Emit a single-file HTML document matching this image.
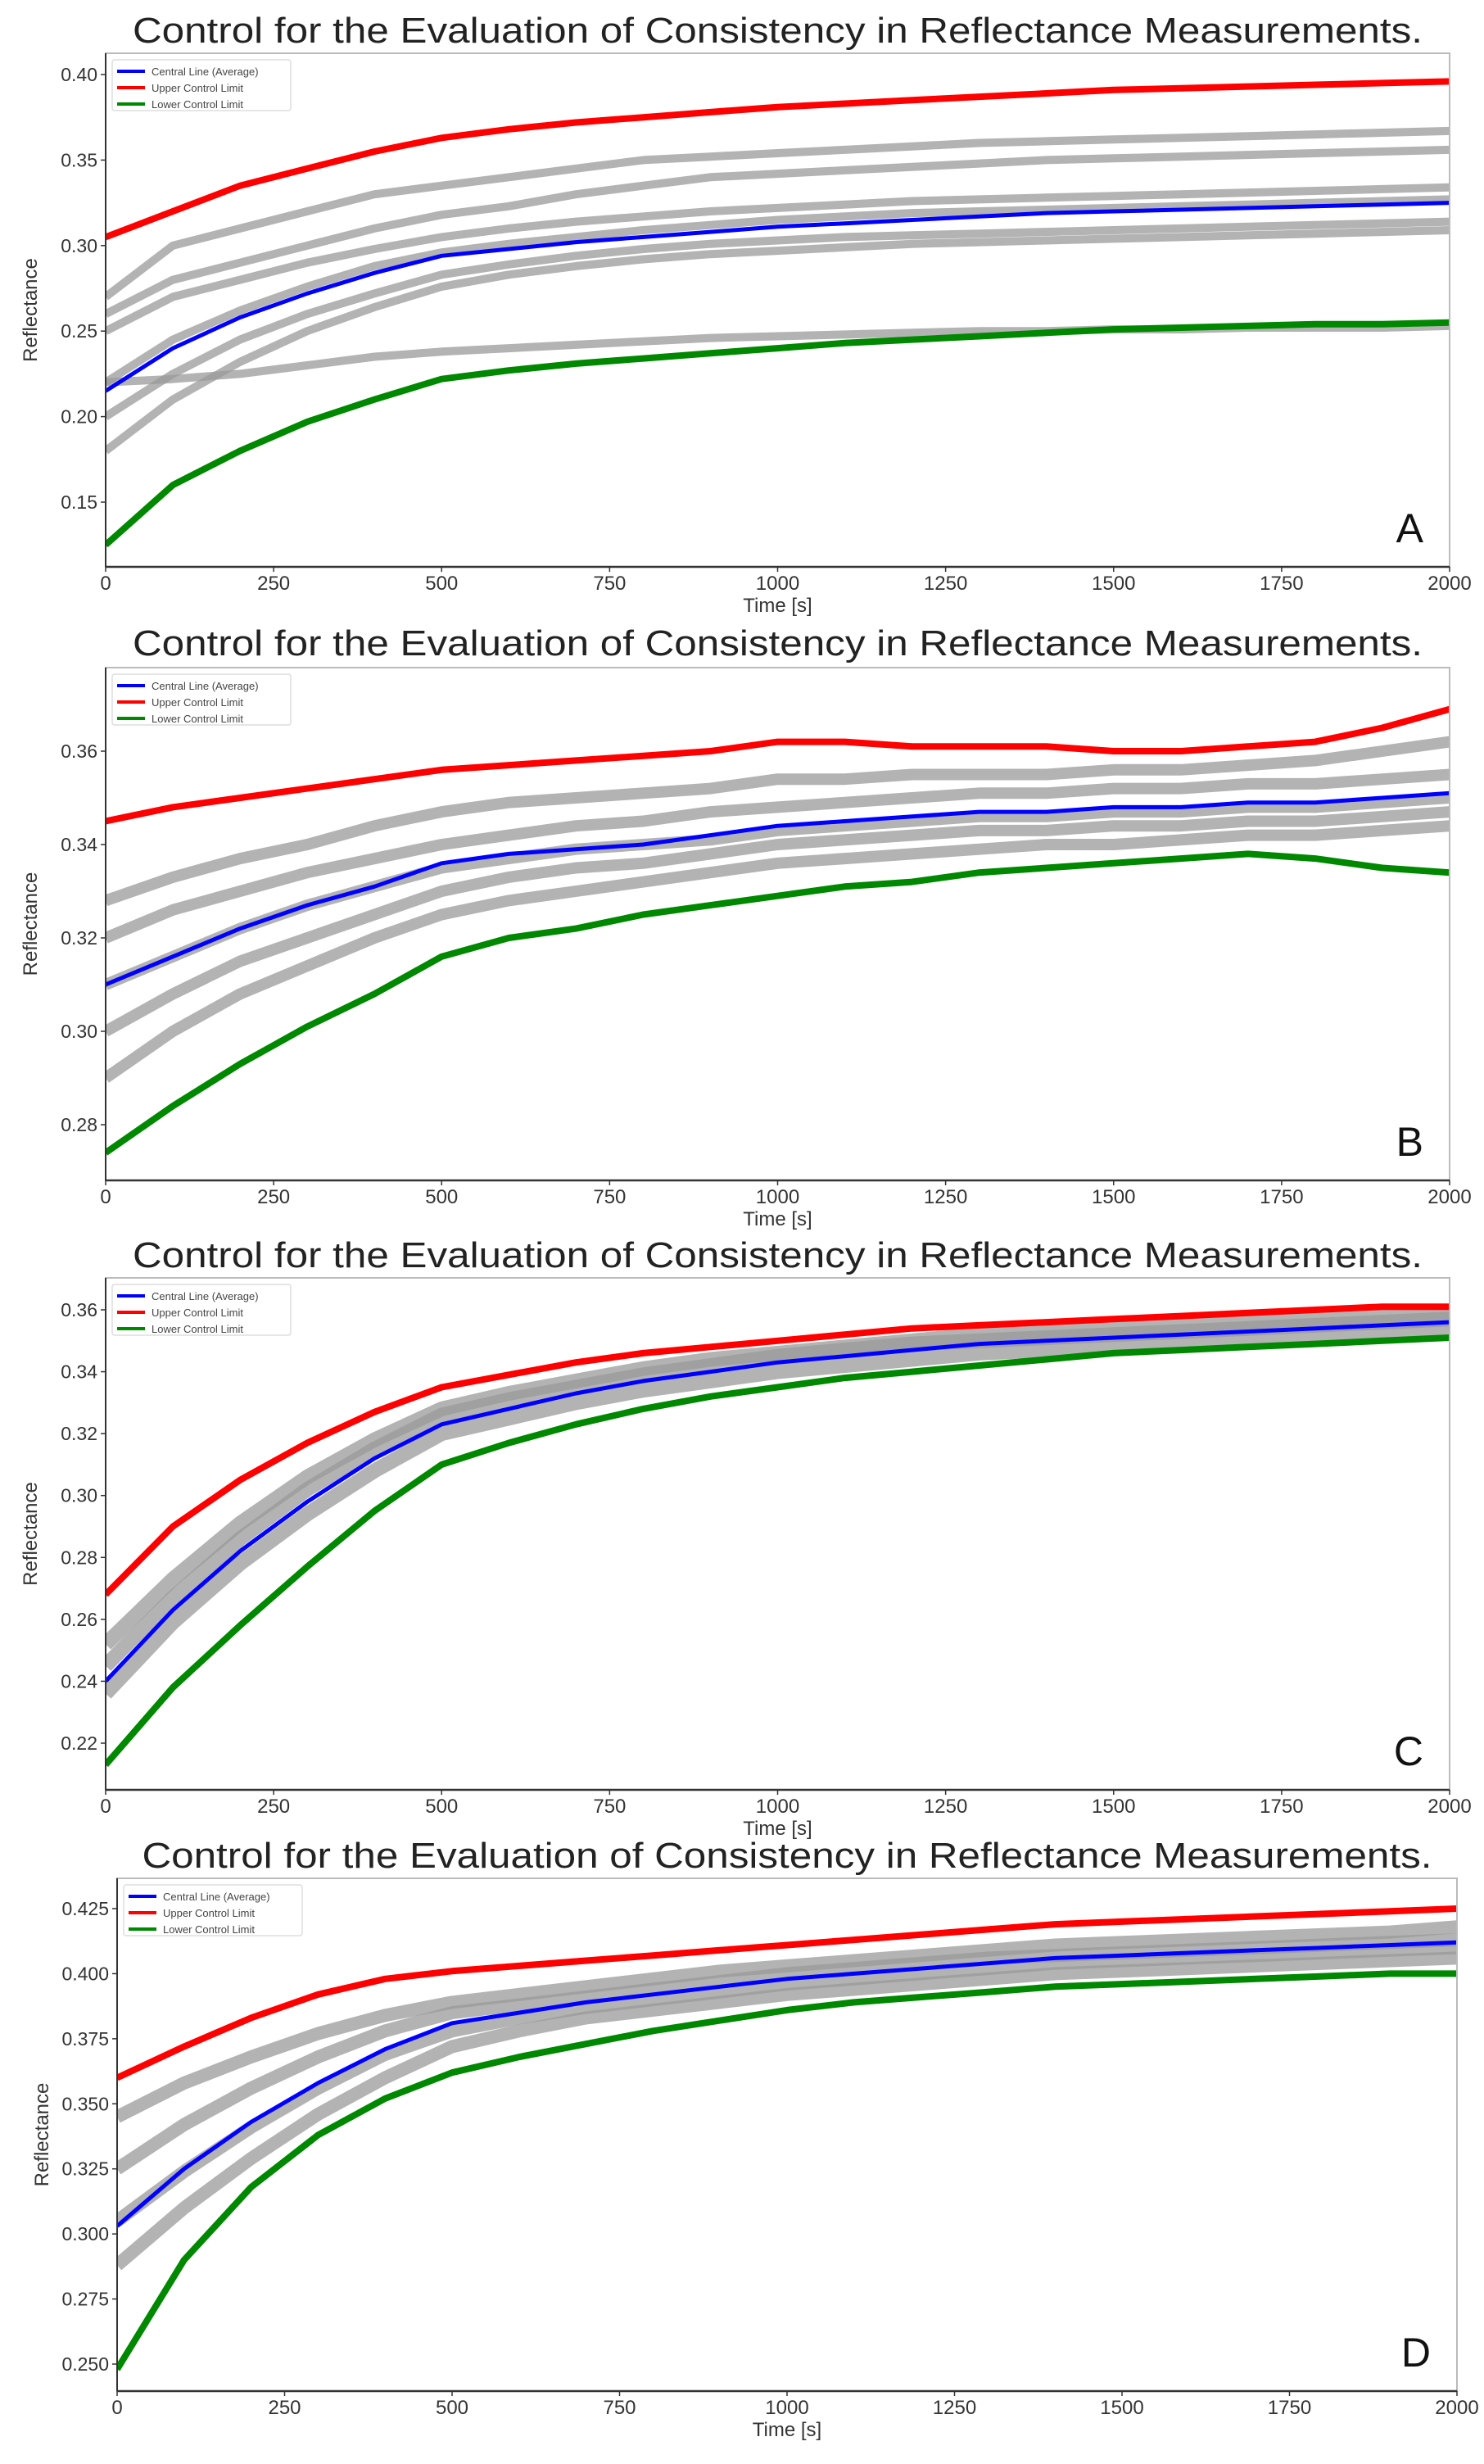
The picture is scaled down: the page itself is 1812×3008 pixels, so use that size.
<!DOCTYPE html>
<html><head><meta charset="utf-8"><style>
html,body{margin:0;padding:0;background:#fff;}
svg{display:block;}
text{font-family:"Liberation Sans","DejaVu Sans",sans-serif;}
</style></head>
<body>
<svg id="fig" width="1812" height="3008" viewBox="0 0 1812 3008" xmlns="http://www.w3.org/2000/svg"></svg>
<script>
const times = [0,100,200,300,400,500,600,700,800,900,1000,1100,1200,1300,1400,1500,1600,1700,1800,1900,2000];
const xTicks = [0,250,500,750,1000,1250,1500,1750,2000];

const aUpper = [0.305,0.32,0.335,0.345,0.355,0.363,0.368,0.372,0.375,0.378,0.381,0.383,0.385,0.387,0.389,0.391,0.392,0.393,0.394,0.395,0.396];
const aCentral = [0.215,0.24,0.258,0.272,0.284,0.294,0.298,0.302,0.305,0.308,0.311,0.313,0.315,0.317,0.319,0.320,0.321,0.322,0.323,0.324,0.325];
const aLower = [0.125,0.16,0.18,0.197,0.21,0.222,0.227,0.231,0.234,0.237,0.240,0.243,0.245,0.247,0.249,0.251,0.252,0.253,0.254,0.254,0.255];
const aGray1 = [0.27,0.30,0.31,0.32,0.33,0.335,0.34,0.345,0.35,0.352,0.354,0.356,0.358,0.36,0.361,0.362,0.363,0.364,0.365,0.366,0.367];
const aGray2 = [0.26,0.28,0.29,0.30,0.31,0.318,0.323,0.33,0.335,0.34,0.342,0.344,0.346,0.348,0.35,0.351,0.352,0.353,0.354,0.355,0.356];
const aGray3 = [0.25,0.27,0.28,0.29,0.298,0.305,0.31,0.314,0.317,0.32,0.322,0.324,0.326,0.327,0.328,0.329,0.33,0.331,0.332,0.333,0.334];
const aGray4 = [0.22,0.245,0.262,0.276,0.288,0.296,0.301,0.305,0.309,0.312,0.315,0.317,0.319,0.32,0.321,0.322,0.323,0.324,0.325,0.326,0.327];
const aGray5 = [0.20,0.225,0.245,0.26,0.272,0.283,0.289,0.294,0.298,0.301,0.303,0.305,0.306,0.307,0.308,0.309,0.310,0.311,0.312,0.313,0.314];
const aGray6 = [0.18,0.21,0.232,0.25,0.264,0.276,0.283,0.288,0.292,0.295,0.297,0.299,0.301,0.302,0.303,0.304,0.305,0.306,0.307,0.308,0.309];
const aGray7 = [0.22,0.222,0.225,0.23,0.235,0.238,0.24,0.242,0.244,0.246,0.247,0.248,0.249,0.25,0.25,0.251,0.251,0.252,0.252,0.252,0.253];
const aYTicks = [0.15,0.20,0.25,0.30,0.35,0.40];

const bUpper = [0.345,0.348,0.35,0.352,0.354,0.356,0.357,0.358,0.359,0.360,0.362,0.362,0.361,0.361,0.361,0.360,0.360,0.361,0.362,0.365,0.369];
const bCentral = [0.31,0.316,0.322,0.327,0.331,0.336,0.338,0.339,0.340,0.342,0.344,0.345,0.346,0.347,0.347,0.348,0.348,0.349,0.349,0.350,0.351];
const bLower = [0.274,0.284,0.293,0.301,0.308,0.316,0.320,0.322,0.325,0.327,0.329,0.331,0.332,0.334,0.335,0.336,0.337,0.338,0.337,0.335,0.334];
const bGray1 = [0.328,0.333,0.337,0.34,0.344,0.347,0.349,0.35,0.351,0.352,0.354,0.354,0.355,0.355,0.355,0.356,0.356,0.357,0.358,0.36,0.362];
const bGray2 = [0.32,0.326,0.33,0.334,0.337,0.34,0.342,0.344,0.345,0.347,0.348,0.349,0.35,0.351,0.351,0.352,0.352,0.353,0.353,0.354,0.355];
const bGray3 = [0.31,0.316,0.322,0.327,0.331,0.335,0.337,0.339,0.34,0.341,0.343,0.344,0.345,0.346,0.346,0.347,0.347,0.348,0.348,0.349,0.35];
const bGray4 = [0.30,0.308,0.315,0.32,0.325,0.33,0.333,0.335,0.336,0.338,0.34,0.341,0.342,0.343,0.343,0.344,0.344,0.345,0.345,0.346,0.347];
const bGray5 = [0.29,0.3,0.308,0.314,0.32,0.325,0.328,0.33,0.332,0.334,0.336,0.337,0.338,0.339,0.34,0.34,0.341,0.342,0.342,0.343,0.344];
const bYTicks = [0.28,0.30,0.32,0.34,0.36];

const cUpper = [0.268,0.29,0.305,0.317,0.327,0.335,0.339,0.343,0.346,0.348,0.350,0.352,0.354,0.355,0.356,0.357,0.358,0.359,0.360,0.361,0.361];
const cCentral = [0.24,0.263,0.282,0.298,0.312,0.323,0.328,0.333,0.337,0.340,0.343,0.345,0.347,0.349,0.350,0.351,0.352,0.353,0.354,0.355,0.356];
const cLower = [0.213,0.238,0.258,0.277,0.295,0.310,0.317,0.323,0.328,0.332,0.335,0.338,0.340,0.342,0.344,0.346,0.347,0.348,0.349,0.350,0.351];
const cGray1 = [0.252,0.273,0.291,0.306,0.318,0.328,0.333,0.337,0.341,0.344,0.346,0.348,0.350,0.352,0.353,0.354,0.355,0.356,0.357,0.358,0.359];
const cGray2 = [0.236,0.259,0.278,0.294,0.308,0.320,0.325,0.330,0.334,0.337,0.340,0.342,0.344,0.346,0.347,0.348,0.349,0.350,0.351,0.352,0.353];
const cGray3 = [0.245,0.267,0.286,0.302,0.315,0.326,0.331,0.335,0.339,0.342,0.345,0.347,0.349,0.350,0.351,0.352,0.353,0.354,0.355,0.356,0.357];
const cYTicks = [0.22,0.24,0.26,0.28,0.30,0.32,0.34,0.36];

const dUpper = [0.36,0.372,0.383,0.392,0.398,0.401,0.403,0.405,0.407,0.409,0.411,0.413,0.415,0.417,0.419,0.420,0.421,0.422,0.423,0.424,0.425];
const dCentral = [0.303,0.325,0.343,0.358,0.371,0.381,0.385,0.389,0.392,0.395,0.398,0.400,0.402,0.404,0.406,0.407,0.408,0.409,0.410,0.411,0.412];
const dLower = [0.248,0.29,0.318,0.338,0.352,0.362,0.368,0.373,0.378,0.382,0.386,0.389,0.391,0.393,0.395,0.396,0.397,0.398,0.399,0.400,0.400];
const dGray1 = [0.345,0.358,0.368,0.377,0.384,0.389,0.392,0.395,0.398,0.401,0.403,0.405,0.407,0.409,0.411,0.412,0.413,0.414,0.415,0.416,0.418];
const dGray2 = [0.325,0.342,0.356,0.368,0.378,0.385,0.388,0.391,0.394,0.397,0.400,0.402,0.404,0.406,0.407,0.408,0.409,0.410,0.411,0.412,0.413];
const dGray3 = [0.305,0.324,0.341,0.356,0.369,0.378,0.383,0.387,0.390,0.393,0.396,0.398,0.400,0.402,0.404,0.405,0.406,0.407,0.408,0.409,0.410];
const dGray4 = [0.288,0.31,0.329,0.346,0.36,0.372,0.378,0.383,0.386,0.389,0.392,0.394,0.396,0.398,0.400,0.401,0.402,0.403,0.404,0.405,0.406];
const dYTicks = [0.250,0.275,0.300,0.325,0.350,0.375,0.400,0.425];

const NS = "http://www.w3.org/2000/svg";
const fig = document.getElementById('fig');
function mk(tag, attrs, parent){const e=document.createElementNS(NS,tag);for(const k in attrs)e.setAttribute(k,attrs[k]);(parent||fig).appendChild(e);return e;}

const panels = [
 {id:'a',letter:'A',L:129,R:1770,T:65,B:692,y0:0.40,py0:91,y1:0.15,py1:613,ticks:aYTicks,dec:2,titleY:52,
  up:aUpper,ce:aCentral,lo:aLower,gray:[aGray1,aGray2,aGray3,aGray4,aGray5,aGray6,aGray7],gw:10},
 {id:'b',letter:'B',L:129,R:1770,T:815,B:1441,y0:0.36,py0:917,y1:0.28,py1:1373,ticks:bYTicks,dec:2,titleY:800,
  up:bUpper,ce:bCentral,lo:bLower,gray:[bGray1,bGray2,bGray3,bGray4,bGray5],gw:14},
 {id:'c',letter:'C',L:129,R:1770,T:1560,B:2185,y0:0.36,py0:1599,y1:0.22,py1:2128,ticks:cYTicks,dec:2,titleY:1547,
  up:cUpper,ce:cCentral,lo:cLower,gray:[cGray1,cGray2,cGray3],gw:18},
 {id:'d',letter:'D',L:143,R:1779,T:2293,B:2919,y0:0.425,py0:2330,y1:0.25,py1:2886,ticks:dYTicks,dec:3,titleY:2280,
  up:dUpper,ce:dCentral,lo:dLower,gray:[dGray1,dGray2,dGray3,dGray4],gw:16}
];

panels.forEach(p=>{
  const g = mk('g',{});
  
  
  const xs = t => p.L + (t/2000)*(p.R-p.L);
  const ys = v => p.py0 + (v-p.y0)*(p.py1-p.py0)/(p.y1-p.y0);
  const title = mk('text',{x:(p.L+p.R)/2,y:p.titleY,'text-anchor':'middle','font-size':44,fill:'#222',textLength:1575,lengthAdjust:'spacingAndGlyphs'},g);
  title.textContent='Control for the Evaluation of Consistency in Reflectance Measurements.';
  
  
  const clipId='clip'+p.id;
  const cp=mk('clipPath',{id:clipId},g);mk('rect',{x:p.L,y:p.T,width:p.R-p.L,height:p.B-p.T},cp);
  const plot=mk('g',{'clip-path':'url(#'+clipId+')'},g);
  const path = arr => arr.map((v,i)=>(i?'L':'M')+xs(times[i]).toFixed(1)+','+ys(v).toFixed(1)).join('');
  p.gray.forEach((arr,i)=>{
    const l=mk('path',{d:path(arr),fill:'none',stroke:'#999',"stroke-width":p.gw,'stroke-opacity':0.75,'stroke-linejoin':'round'},plot);
    
    
  });
  const up=mk('path',{d:path(p.up),fill:'none',stroke:'#f00','stroke-width':8,'stroke-linejoin':'round'},plot);
  
  
  const lo=mk('path',{d:path(p.lo),fill:'none',stroke:'#080','stroke-width':8,'stroke-linejoin':'round'},plot);
  
  
  const ce=mk('path',{d:path(p.ce),fill:'none',stroke:'#00f','stroke-width':5,'stroke-linejoin':'round'},plot);
  
  
  const frame=mk('rect',{x:p.L,y:p.T,width:p.R-p.L,height:p.B-p.T,fill:'none',stroke:'#bbb','stroke-width':2},g);
  
  
  mk('line',{x1:p.L,y1:p.B,x2:p.R,y2:p.B,stroke:'#333','stroke-width':2.5},g);
  mk('line',{x1:p.L,y1:p.T,x2:p.L,y2:p.B,stroke:'#333','stroke-width':2},g);
  xTicks.forEach(t=>{
    mk('line',{x1:xs(t),y1:p.B,x2:xs(t),y2:p.B+6,stroke:'#333','stroke-width':1.5},g);
    const tx=mk('text',{x:xs(t),y:p.B+28,'text-anchor':'middle','font-size':24,fill:'#333'},g);
    tx.textContent=t;
    
    
  });
  p.ticks.forEach(v=>{
    mk('line',{x1:p.L-6,y1:ys(v),x2:p.L,y2:ys(v),stroke:'#333','stroke-width':1.5},g);
    const tx=mk('text',{x:p.L-10,y:ys(v)+8,'text-anchor':'end','font-size':23,fill:'#333'},g);
    tx.textContent=v.toFixed(p.dec);
    
    
  });
  const xt=mk('text',{x:(p.L+p.R)/2,y:p.B+55,'text-anchor':'middle','font-size':24,fill:'#333'},g);
  xt.textContent='Time [s]';
  
  
  const cy=(p.T+p.B)/2;
  const yt=mk('text',{x:0,y:0,'text-anchor':'middle','font-size':24,fill:'#333',transform:'translate('+(p.L-84)+','+cy+') rotate(-90)'},g);
  yt.textContent='Reflectance';
  
  
  const lt=mk('text',{x:p.R-32,y:p.B-30,'text-anchor':'end','font-size':50,fill:'#111'},g);
  lt.textContent=p.letter;
  
  
  const lg=mk('g',{},g);
  
  
  mk('rect',{x:p.L+8,y:p.T+8,width:218,height:62,fill:'#fff',stroke:'#ddd','stroke-width':1.5,rx:3},lg);
  [['Central Line (Average)','#00f'],['Upper Control Limit','#f00'],['Lower Control Limit','#080']].forEach((e,i)=>{
    const ey=p.T+22+i*20;
    const en=mk('g',{},lg);
    
    
    mk('line',{x1:p.L+14,y1:ey,x2:p.L+48,y2:ey,stroke:e[1],'stroke-width':4},en);
    const t=mk('text',{x:p.L+56,y:ey+5,'font-size':13,fill:'#444'},en);
    t.textContent=e[0];
  });
});
</script>
</body></html>
